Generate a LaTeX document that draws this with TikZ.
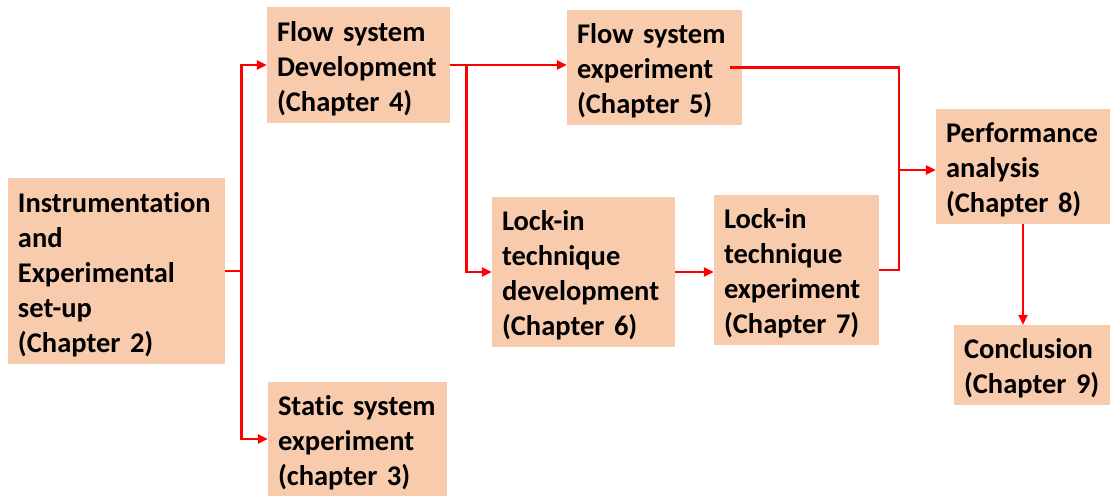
\documentclass[tikz,border=0pt]{standalone}
\usepackage{fontspec}
\setmainfont{Carlito}[Ligatures=NoCommon,WordSpace=0.8]
\usepackage{tikz}
\usetikzlibrary{arrows.meta,positioning}

\definecolor{peach}{HTML}{F8CBAD}

\begin{document}
\begin{tikzpicture}[x=1bp,y=-1bp,>={Triangle[length=10bp,width=9bp]},
                    link/.style={draw=red,line width=2.8bp},
                    chap/.style={fill=peach,inner xsep=10bp,inner ysep=0bp,
                                 align=left,font=\bfseries\fontsize{28.5bp}{35bp}\selectfont,
                                 execute at begin node=\rule{0pt}{27bp}}]

  \useasboundingbox (0,0) rectangle (1110,496);

  	\node[chap,text width=197bp,minimum height=186bp] (instr)   at (116.5,271)
  	     {Instrumentation\\and\\Experimental\\set-up\\(Chapter 2)};
  	\node[chap,text width=163bp,minimum height=116bp] (flowdev) at (358.5,65)
  	     {Flow system\\Development\\(Chapter 4)};
  	\node[chap,text width=159bp,minimum height=114bp] (static)  at (357.5,439)
  	     {Static system\\experiment\\(chapter 3)};
  	\node[chap,text width=155bp,minimum height=115bp] (flowexp) at (654.5,67.5)
  	     {Flow system\\experiment\\(Chapter 5)};
  	\node[chap,text width=163bp,minimum height=150bp] (lockdev) at (583.5,272)
  	     {Lock-in\\technique\\development\\(Chapter 6)};
  	\node[chap,text width=145bp,minimum height=150bp] (lockexp) at (796.5,270)
  	     {Lock-in\\technique\\experiment\\(Chapter 7)};
  	\node[chap,text width=154bp,minimum height=115bp] (perf)    at (1023,166.5)
  	     {Performance\\analysis\\(Chapter 8)};
  	\node[chap,text width=136bp,minimum height=80bp]  (concl)   at (1032,365)
  	     {Conclusion\\(Chapter 9)};

  	\path[link] (instr.east) -- ++(16,0) coordinate (ja);
  	\path[link,->] (ja) |- (flowdev.west);
  	\path[link,->] (ja) |- (static.west);

  	\path[link] (flowdev.east) -- ++(16,0) coordinate (jb);
  	\path[link,->] (flowdev.east) -- (jb -| flowexp.west);
  	\path[link,->] (jb) |- (lockdev.west);
	\path[link,->] (lockdev.east) -- (lockdev.east -| lockexp.west);

	\coordinate (jc) at (899,170);
	\path[link] ([xshift=-12bp]flowexp.east) -| (jc);
	\path[link] (lockexp.east) -| (jc);
	\path[link,->] (jc) -- (jc -| perf.west);

	\path[link,->] (perf.south) -- (perf.south |- concl.north);

\end{tikzpicture}
\end{document}
